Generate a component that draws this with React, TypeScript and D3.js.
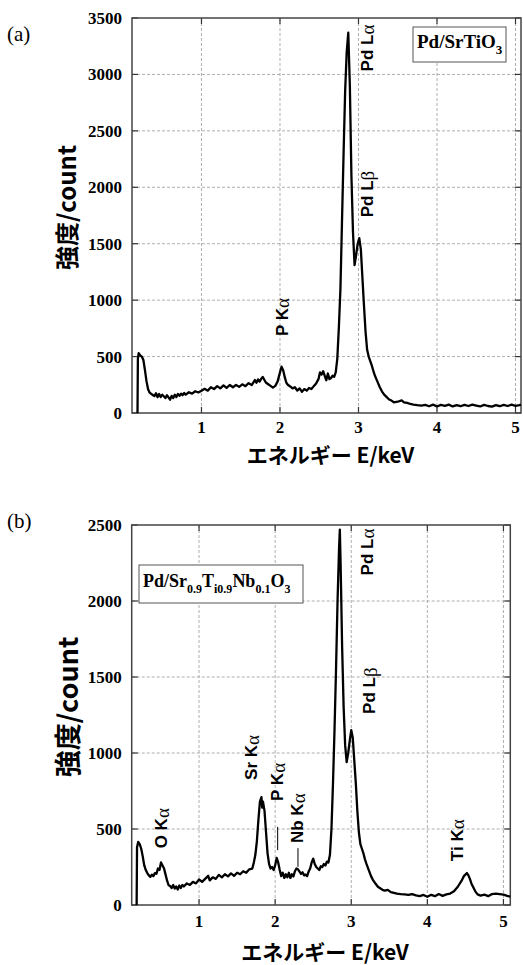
import React from "react";
import * as d3 from "d3";

// ---------- Data ----------
const energyA = [0.185,0.19,0.2,0.22,0.24,0.26,0.28,0.3,0.32,0.34,0.36,0.38,0.4,0.42,0.44,0.46,0.48,0.5,0.52,0.54,0.56,0.58,0.6,0.62,0.64,0.66,0.68,0.7,0.72,0.74,0.76,0.78,0.8,0.84,0.88,0.92,0.96,1.0,1.04,1.08,1.12,1.16,1.2,1.24,1.28,1.32,1.36,1.4,1.44,1.48,1.52,1.56,1.6,1.64,1.68,1.7,1.72,1.74,1.76,1.78,1.8,1.82,1.85,1.88,1.91,1.94,1.97,2.0,2.02,2.04,2.06,2.08,2.1,2.13,2.16,2.19,2.22,2.25,2.28,2.31,2.34,2.37,2.4,2.43,2.46,2.49,2.51,2.53,2.55,2.57,2.59,2.61,2.63,2.65,2.67,2.69,2.71,2.73,2.75,2.77,2.79,2.81,2.83,2.85,2.87,2.89,2.91,2.93,2.95,2.97,2.99,3.01,3.03,3.05,3.07,3.09,3.11,3.13,3.15,3.17,3.19,3.21,3.24,3.27,3.3,3.33,3.36,3.39,3.42,3.45,3.5,3.55,3.58,3.62,3.66,3.7,3.75,3.8,3.85,3.9,3.95,4.0,4.05,4.1,4.15,4.2,4.25,4.3,4.35,4.4,4.45,4.5,4.55,4.6,4.65,4.7,4.75,4.8,4.85,4.9,4.95,5.0,5.05,5.07];
const countA = [0,480,530,510,500,470,380,280,210,180,170,160,150,175,140,168,142,162,148,132,158,138,118,152,132,162,142,168,152,172,158,178,162,184,172,193,182,198,214,198,228,212,238,218,244,222,248,228,248,232,254,238,264,248,292,268,298,278,302,320,295,270,255,240,225,240,280,360,410,380,320,270,250,235,218,228,198,218,188,212,198,222,212,238,262,300,360,340,370,330,290,350,300,310,330,320,360,480,760,1100,1700,2300,2850,3200,3370,2900,2100,1600,1310,1400,1500,1550,1450,1200,950,720,560,500,460,420,370,330,280,230,190,160,140,120,110,95,100,112,95,90,80,75,70,66,72,60,74,58,72,64,74,58,70,60,72,62,74,66,58,72,62,56,70,60,72,62,74,64,70,74];

const energyB = [0.18,0.185,0.2,0.22,0.24,0.26,0.28,0.3,0.32,0.34,0.36,0.38,0.4,0.42,0.44,0.46,0.48,0.5,0.52,0.54,0.56,0.58,0.6,0.62,0.64,0.66,0.68,0.7,0.72,0.74,0.76,0.78,0.8,0.84,0.88,0.92,0.96,1.0,1.04,1.08,1.12,1.14,1.18,1.22,1.26,1.3,1.34,1.38,1.42,1.46,1.5,1.54,1.58,1.62,1.66,1.7,1.72,1.74,1.76,1.78,1.8,1.82,1.83,1.84,1.86,1.88,1.9,1.92,1.94,1.96,1.98,2.0,2.02,2.04,2.06,2.08,2.1,2.12,2.14,2.16,2.18,2.2,2.22,2.24,2.26,2.28,2.3,2.32,2.34,2.36,2.38,2.4,2.42,2.44,2.46,2.48,2.5,2.52,2.54,2.56,2.58,2.6,2.62,2.64,2.66,2.68,2.7,2.72,2.74,2.76,2.78,2.8,2.82,2.84,2.85,2.86,2.88,2.9,2.92,2.94,2.96,2.98,3.0,3.02,3.04,3.06,3.08,3.1,3.12,3.14,3.16,3.18,3.2,3.23,3.26,3.29,3.32,3.35,3.38,3.41,3.44,3.48,3.52,3.56,3.6,3.65,3.7,3.75,3.8,3.85,3.9,3.95,4.0,4.05,4.1,4.15,4.2,4.25,4.3,4.35,4.4,4.45,4.48,4.5,4.52,4.54,4.56,4.58,4.6,4.63,4.66,4.7,4.75,4.8,4.85,4.9,4.95,5.0,5.05,5.09];
const countB = [0,380,415,400,370,320,260,230,210,195,185,200,190,210,205,240,230,280,260,240,200,160,130,125,112,132,108,122,102,128,112,132,122,142,132,152,142,168,152,172,192,162,182,172,198,182,202,188,208,192,212,202,222,212,235,240,280,330,420,560,680,710,640,680,620,480,340,270,240,250,230,260,310,280,230,190,212,178,202,182,212,178,202,188,222,240,235,220,205,215,195,200,190,220,240,280,305,270,250,240,230,255,250,270,260,285,280,330,500,800,1150,1550,2000,2350,2470,2250,1700,1300,1050,940,1000,1080,1150,1100,950,800,620,480,400,370,340,300,270,230,190,160,140,120,110,100,95,100,85,80,75,72,70,66,72,63,58,66,54,67,58,72,60,70,75,90,120,160,190,200,210,195,170,140,120,90,70,62,68,58,72,75,72,68,60,55];

const xTicks = [1, 2, 3, 4, 5];
const yTicksA = [0, 500, 1000, 1500, 2000, 2500, 3000, 3500];
const yTicksB = [0, 500, 1000, 1500, 2000, 2500];

// annotations: [label main, greek, energy, count(center)]
const annotA: [string, string, number, number][] = [
  ["Pd L", "α", 3.109, 3234],
  ["Pd L", "β", 3.109, 1940],
  ["P K", "α", 2.026, 851],
];
const annotB: [string, string, number, number][] = [
  ["Pd L", "α", 3.211, 2322],
  ["Pd L", "β", 3.246, 1410],
  ["Sr K", "α", 1.692, 971],
  ["P K", "α", 2.037, 810],
  ["Nb K", "α", 2.296, 571],
  ["O K", "α", 0.509, 505],
  ["Ti K", "α", 4.393, 426],
];
// leader lines: [energy, count from, count to]
const leadersB: [number, number, number][] = [
  [2.033, 361, 514],
  [2.3, 251, 374],
];

const serif = "'Liberation Serif', 'Times New Roman', serif";
const sans = "'Liberation Sans', Arial, sans-serif";
const cjk = "'Noto Sans CJK JP', sans-serif";

type PanelProps = {
  energy: number[];
  count: number[];
  xDomain: [number, number];
  yMax: number;
  left: number; right: number; top: number; bottom: number;
  yTicks: number[];
  annots: [string, string, number, number][];
  leaders: [number, number, number][];
  yLabelSize: number;
  yLabelX: number;
  xLabelY: number;
  xTickDy: number;
  children?: React.ReactNode;
};

function Panel(p: PanelProps) {
  const x = d3.scaleLinear().domain(p.xDomain).range([p.left, p.right]);
  const y = d3.scaleLinear().domain([0, p.yMax]).range([p.bottom, p.top]);
  const pts = p.energy.map((e, i) => [e, p.count[i]] as [number, number]);
  const line = d3.line<[number, number]>().x(d => x(d[0])).y(d => y(d[1]));
  const midY = (p.top + p.bottom) / 2;
  const midX = (p.left + p.right) / 2 + 4;
  return (
    <g>
      {xTicks.map(t => (
        <line key={"gx" + t} x1={x(t)} x2={x(t)} y1={p.top} y2={p.bottom} stroke="#9a9a9a" strokeWidth={0.8} strokeDasharray="3,2" />
      ))}
      {p.yTicks.filter(t => t > 0 && t < p.yMax).map(t => (
        <line key={"gy" + t} x1={p.left} x2={p.right} y1={y(t)} y2={y(t)} stroke="#9a9a9a" strokeWidth={0.8} strokeDasharray="3,2" />
      ))}
      {xTicks.map(t => (
        <g key={"tx" + t}>
          <line x1={x(t)} x2={x(t)} y1={p.top} y2={p.top + 6} stroke="#333" strokeWidth={1.2} />
          <line x1={x(t)} x2={x(t)} y1={p.bottom} y2={p.bottom - 6} stroke="#333" strokeWidth={1.2} />
        </g>
      ))}
      {p.yTicks.map(t => (
        <g key={"ty" + t}>
          <line x1={p.left} x2={p.left + 6} y1={y(t)} y2={y(t)} stroke="#333" strokeWidth={1.2} />
          <line x1={p.right} x2={p.right - 6} y1={y(t)} y2={y(t)} stroke="#333" strokeWidth={1.2} />
        </g>
      ))}
      <rect x={p.left} y={p.top} width={p.right - p.left} height={p.bottom - p.top} fill="none" stroke="#444" strokeWidth={1.5} />
      <path d={line(pts) || ""} fill="none" stroke="#000" strokeWidth={2.3} strokeLinejoin="round" />
      {p.leaders.map((l, i) => (
        <line key={"ld" + i} x1={x(l[0])} x2={x(l[0])} y1={y(l[1])} y2={y(l[2])} stroke="#000" strokeWidth={1} />
      ))}
      {p.annots.map((a, i) => (
        <text key={"an" + i} transform={`translate(${x(a[2])},${y(a[3])}) rotate(-90)`} textAnchor="middle" dominantBaseline="central" fontFamily={sans} fontWeight="bold" fontSize={17} fill="#000">
          {a[0]}<tspan fontFamily={serif} fontWeight="normal" fontSize={19}>{a[1]}</tspan>
        </text>
      ))}
      {p.yTicks.map(t => (
        <text key={"yl" + t} x={p.left - 10} y={y(t)} dy="0.35em" textAnchor="end" fontFamily={serif} fontWeight="bold" fontSize={17}>{t}</text>
      ))}
      {xTicks.map(t => (
        <text key={"xl" + t} x={x(t)} y={p.bottom + p.xTickDy} textAnchor="middle" fontFamily={serif} fontWeight="bold" fontSize={17}>{t}</text>
      ))}
      <text transform={`translate(${p.yLabelX},${midY - 8}) rotate(-90)`} textAnchor="middle" dominantBaseline="central" fontFamily={cjk} fontWeight="bold" fontSize={p.yLabelSize}>強度/count</text>
      <text x={midX} y={p.xLabelY} textAnchor="middle" fontFamily={cjk} fontWeight="bold" fontSize={21}>エネルギー E/keV</text>
      {p.children}
    </g>
  );
}

export default function App() {
  return (
    <svg width={523} height={965} style={{ position: "absolute", left: 0, top: 0, background: "#fff" }}>
      <rect width={523} height={965} fill="#fff" />
      <text x={7} y={41} fontFamily={serif} fontSize={21}>(a)</text>
      <text x={7} y={528} fontFamily={serif} fontSize={21}>(b)</text>
      <Panel energy={energyA} count={countA} xDomain={[0.115, 5.07]} yMax={3500}
        left={132} right={521} top={18} bottom={413} yTicks={yTicksA}
        annots={annotA} leaders={[]} yLabelSize={24} yLabelX={65} xLabelY={463} xTickDy={20}>
        <rect x={413} y={27} width={93} height={35} fill="#fff" stroke="#555" strokeWidth={1} />
        <text x={417} y={48} fontFamily={serif} fontWeight="bold" fontSize={19}>Pd/SrTiO<tspan fontSize={13} dy={6}>3</tspan></text>
      </Panel>
      <Panel energy={energyB} count={countB} xDomain={[0.115, 5.09]} yMax={2500}
        left={131.7} right={510.3} top={525} bottom={905} yTicks={yTicksB}
        annots={annotB} leaders={leadersB} yLabelSize={27} yLabelX={66} xLabelY={960} xTickDy={22}>
        <rect x={139} y={565} width={164} height={38} fill="#fff" stroke="#555" strokeWidth={1} />
        <text x={143} y={587} fontFamily={serif} fontWeight="bold" fontSize={18}>
          Pd/Sr<tspan fontSize={12} dy={6}>0.9</tspan><tspan dy={-6}>T</tspan><tspan fontSize={12} dy={6}>i0.9</tspan><tspan dy={-6}>Nb</tspan><tspan fontSize={12} dy={6}>0.1</tspan><tspan dy={-6}>O</tspan><tspan fontSize={12} dy={6}>3</tspan>
        </text>
      </Panel>
    </svg>
  );
}
